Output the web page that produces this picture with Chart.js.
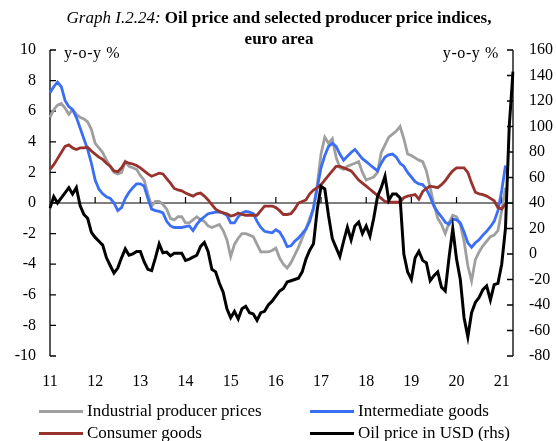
<!DOCTYPE html>
<html>
<head>
<meta charset="utf-8">
<script src="https://cdn.jsdelivr.net/npm/chart.js@4.4.0/dist/chart.umd.min.js"></script>
<style>
    body { margin: 0; background: #fff; }
    #marco { position: relative; width: 556px; height: 441px; font-family: "Liberation Serif", "Times New Roman", serif; color: #000; }
    #grafico { position: absolute; left: 0; top: 0; }
    #titulo { position: absolute; left: 0; top: 7px; width: 558px; text-align: center; font-size: 17px; line-height: 21px; }
    #titulo i { font-weight: normal; }
    #titulo b { font-weight: bold; }
    .unidad { position: absolute; top: 44px; font-size: 16px; letter-spacing: 0.6px; }
    .leyenda { position: absolute; font-size: 17px; line-height: 20px; white-space: nowrap; display: flex; align-items: center; }
    .leyenda .linea { display: inline-block; width: 44px; height: 3px; margin-right: 4px; }
</style>
</head>
<body>
<div id="marco">
    <canvas id="grafico" width="556" height="441"></canvas>
    <div id="titulo"><i>Graph I.2.24:</i> <b>Oil price and selected producer price indices,</b><br><b>euro area</b></div>
    <div class="unidad" style="left:64px">y-o-y %</div>
    <div class="unidad" style="right:57px">y-o-y %</div>
    <div id="leyendas"></div>
</div>
<script>
// meses ene-2011 .. abr-2021
const meses = [];
for (let a = 2011; a <= 2021; a++) {
    for (let m = 1; m <= 12; m++) {
        if (a === 2021 && m > 4) break;
        meses.push(a + '-' + String(m).padStart(2, '0'));
    }
}
const etiquetasAnio = ['11', '12', '13', '14', '15', '16', '17', '18', '19', '20', '21'];

const nombres = ['Industrial producer prices', 'Intermediate goods', 'Consumer goods', 'Oil price in USD (rhs)'];
const colores = ['#9f9f9f', '#3a6ef5', '#98322d', '#000000'];

const preciosIndustriales = [
    5.6, 6.1, 6.4, 6.5, 6.2, 5.8, 6.1, 5.8, 5.6, 5.5, 5.3, 4.8,
    3.9, 3.6, 3.3, 2.8, 2.4, 2.0, 1.9, 2.0, 2.7, 2.4, 2.3, 2.2,
    1.8, 1.5, 0.6, -0.2, 0.1, 0.1, -0.1, -0.4, -1.0, -1.1, -0.9, -0.9,
    -1.3, -1.3, -1.1, -0.9, -1.1, -1.2, -1.5, -1.6, -1.5, -1.4, -1.8, -2.4,
    -3.5, -2.7, -2.3, -2.0, -2.0, -2.1, -2.2, -2.7, -3.2, -3.2, -3.2, -3.1,
    -2.95, -3.6, -4.0, -4.25, -3.9, -3.4, -2.9, -2.3, -1.7, -1.0, -0.4, 1.2,
    3.2, 4.3, 3.9, 4.2, 3.0, 2.3, 2.2, 2.4, 2.5, 2.6, 2.7, 2.0,
    1.5, 1.6, 1.7, 2.0, 3.3, 3.8, 4.3, 4.5, 4.7, 5.0, 4.2, 3.2,
    3.1, 2.95, 2.8, 2.7, 2.1, 1.0, -0.1, -1.0, -1.4, -2.0, -1.3, -0.8,
    -0.9, -1.4, -2.5, -4.1, -5.1, -3.7, -3.2, -2.8, -2.5, -2.2, -2.1, -1.8,
    -0.5, 1.0
];

const bienesIntermedios = [
    7.2, 7.6, 7.9, 7.6, 6.7, 6.3, 6.1, 5.6, 4.9, 4.2, 3.5, 2.6,
    1.5, 0.9, 0.6, 0.4, 0.3, 0.0, -0.5, -0.3, 0.3, 0.7, 1.0, 1.25,
    1.25, 1.1, 0.3, -0.4, -0.5, -0.55, -0.65, -1.2, -1.5, -1.6, -1.6, -1.6,
    -1.55, -1.5, -1.8, -1.4, -1.1, -0.9, -0.7, -0.65, -0.6, -0.6, -0.65, -0.8,
    -1.3, -1.3, -0.9, -0.65, -0.55, -0.6, -0.7, -1.2, -1.6, -1.85, -1.9, -1.95,
    -1.75, -1.9, -2.3, -2.85, -2.8, -2.5, -2.3, -2.0, -1.7, -1.2, -0.3, 1.0,
    2.3, 3.1, 3.7, 3.9, 3.7, 3.2, 2.8, 3.05, 3.3, 3.5, 3.2, 2.9,
    2.7, 2.5, 2.3, 2.1, 2.6, 3.0, 3.15, 3.2, 3.0, 2.6, 2.4, 2.0,
    1.7, 1.4, 1.25, 1.2, 0.9, 0.4, -0.2, -0.6, -0.9, -1.25, -1.4, -1.05,
    -1.1, -1.3, -1.9, -2.6, -2.9, -2.6, -2.4, -2.1, -1.85, -1.55, -1.2, -0.5,
    0.8, 2.45
];

const bienesConsumo = [
    2.2, 2.5, 2.9, 3.3, 3.7, 3.8, 3.6, 3.5, 3.6, 3.6, 3.65, 3.4,
    3.2, 3.0, 2.85, 2.6, 2.4, 2.1, 2.05, 2.3, 2.7, 2.6, 2.55, 2.45,
    2.3, 2.1, 1.9, 1.75, 1.85, 1.95, 1.9, 1.6, 1.3, 0.95, 0.85, 0.8,
    0.65, 0.55, 0.45, 0.6, 0.65, 0.45, 0.2, -0.1, -0.4, -0.55, -0.65, -0.7,
    -0.85, -0.8, -0.65, -0.75, -0.8, -0.8, -0.8, -0.8, -0.5, -0.2, -0.2, -0.2,
    -0.3, -0.5, -0.75, -0.75, -0.7, -0.4, 0.0, 0.1, 0.2, 0.6, 0.85, 1.0,
    1.2, 1.5, 1.8, 2.1, 2.4, 2.4, 2.3, 2.2, 2.1, 1.8, 1.5, 1.3,
    1.1, 0.9, 0.7, 0.5, 0.3, 0.1, 0.05, 0.05, 0.05, 0.05, 0.35, 0.45,
    0.5, 0.55, 0.25, 0.75, 0.95, 1.1, 1.05, 1.0, 1.2, 1.45, 1.8, 2.1,
    2.3, 2.3, 2.3, 2.0, 1.3, 0.7, 0.6, 0.55, 0.45, 0.3, 0.15, -0.3,
    -0.4, -0.05
];

const petroleoUsd = [
    36, 45, 40, 44, 48, 52, 47, 52, 38, 31, 28, 17,
    13, 10, 7, -3, -9, -15, -11, -3, 4, -1, 0, 2,
    2, -6, -12, -13, -3, 8, 1, 1.5, -1.5, 0.5, 0.5, 0.5,
    -5, -4, -2.5, -1, 6, 9, 2, -12, -14, -23, -30, -43,
    -50, -45, -51, -43, -41, -46, -47, -52, -46, -45, -40, -37,
    -33, -29, -27, -22, -21, -20, -19, -14, -4, 3, 8, 35,
    53, 51, 30, 12, 5, -2, 10, 21, 11, 22, 25, 16,
    22, 14, 28, 45, 52, 61, 42, 47, 47, 44, 0, -14,
    -20, -3, 2, -5, -7, -21, -17, -14, -26, -29, -3, 20,
    -4, -20, -50, -65, -46, -38, -34, -28, -25, -36, -24, -23,
    -8, 20, 100, 143
];

const series = [preciosIndustriales, bienesIntermedios, bienesConsumo, petroleoUsd];
const ejesY = ['y', 'y', 'y', 'y1'];
const ordenes = [3, 2, 1, 0];

// ejes con marcas hacia dentro y linea del cero
const ejesPropios = {
    id: 'ejesPropios',
    beforeDatasetsDraw(chart) {
        const { ctx, chartArea, scales } = chart;
        const izq = chartArea.left, der = chartArea.right;
        ctx.save();
        ctx.strokeStyle = '#000';
        ctx.lineWidth = 1.3;
        ctx.beginPath();
        ctx.moveTo(izq, chartArea.top); ctx.lineTo(izq, chartArea.bottom);
        ctx.moveTo(der, chartArea.top); ctx.lineTo(der, chartArea.bottom);
        scales.y.ticks.forEach(t => {
            const py = scales.y.getPixelForValue(t.value);
            ctx.moveTo(izq, py); ctx.lineTo(izq + 6, py);
        });
        scales.y1.ticks.forEach(t => {
            const py = scales.y1.getPixelForValue(t.value);
            ctx.moveTo(der, py); ctx.lineTo(der - 6, py);
        });
        ctx.stroke();

        const y0 = scales.y.getPixelForValue(0);
        ctx.lineWidth = 1.2;
        ctx.beginPath();
        ctx.moveTo(izq, y0); ctx.lineTo(der, y0);
        meses.forEach((m, i) => {
            if (i > 0 && i % 12 === 0) {
                const px = scales.x.getPixelForValue(i);
                ctx.moveTo(px, y0); ctx.lineTo(px, y0 - 6);
            }
        });
        ctx.stroke();
        ctx.restore();
    }
};

const fuenteTicks = { family: '"Liberation Serif", "Times New Roman", serif', size: 16 };

new Chart(document.getElementById('grafico'), {
    type: 'line',
    data: {
        labels: meses,
        datasets: series.map((s, i) => ({
            label: nombres[i],
            data: s,
            yAxisID: ejesY[i],
            order: ordenes[i],
            borderColor: colores[i],
            borderWidth: i === 3 ? 3 : 2.8,
            pointRadius: 0,
            tension: 0,
            fill: false
        }))
    },
    options: {
        responsive: false,
        animation: false,
        devicePixelRatio: 1,
        layout: { padding: { top: 50, left: 0, right: 0, bottom: 0 } },
        plugins: { legend: { display: false }, tooltip: { enabled: false } },
        scales: {
            x: {
                offset: false,
                grid: { display: false, drawTicks: false },
                border: { display: false },
                afterFit: s => { s.height = 85; },
                ticks: {
                    autoSkip: false,
                    maxRotation: 0,
                    padding: 16,
                    color: '#000',
                    font: fuenteTicks,
                    callback: (v, i) => i % 12 === 0 ? etiquetasAnio[i / 12] : null
                }
            },
            y: {
                position: 'left',
                min: -10, max: 10,
                grid: { display: false, drawTicks: false },
                border: { display: false },
                afterFit: s => { s.width = 50; },
                ticks: { stepSize: 2, padding: 14, color: '#000', font: fuenteTicks }
            },
            y1: {
                position: 'right',
                min: -80, max: 160,
                grid: { display: false, drawTicks: false },
                border: { display: false },
                afterFit: s => { s.width = 43; },
                ticks: { stepSize: 20, padding: 16, color: '#000', font: fuenteTicks }
            }
        }
    },
    plugins: [ejesPropios]
});

// leyenda en dos columnas
const posLeyenda = [[39, 401], [310, 401], [39, 423], [310, 423]];
const contLeyenda = document.getElementById('leyendas');
nombres.forEach((n, i) => {
    const d = document.createElement('div');
    d.className = 'leyenda';
    d.style.left = posLeyenda[i][0] + 'px';
    d.style.top = posLeyenda[i][1] + 'px';
    d.innerHTML = '<span class="linea" style="background:' + colores[i] + '"></span>' + n;
    contLeyenda.appendChild(d);
});
</script>
</body>
</html>
